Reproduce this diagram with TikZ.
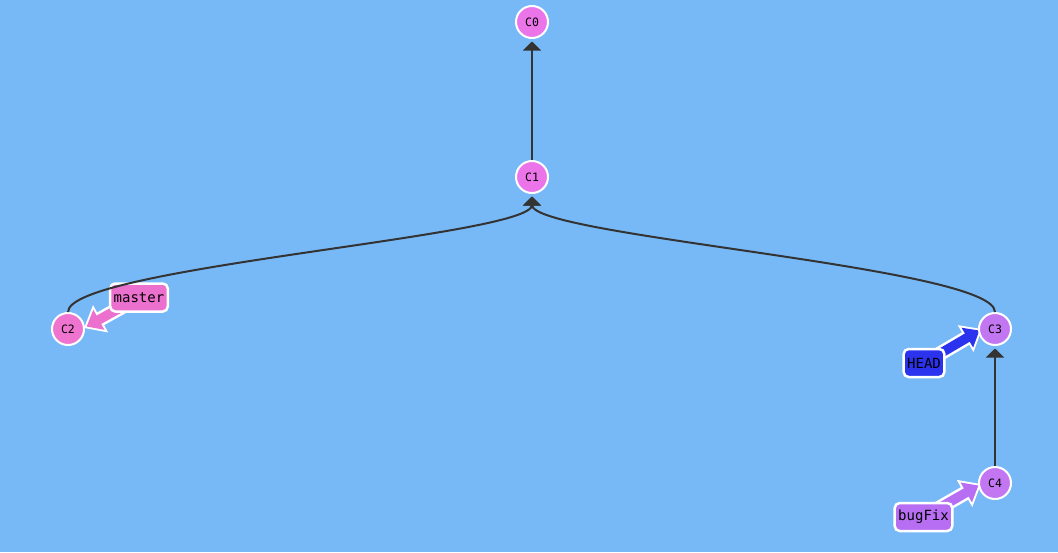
\documentclass[tikz,border=0pt]{standalone}
\usepackage{fontspec}
\setmonofont{DejaVu Sans Mono}
\usetikzlibrary{arrows.meta}
\definecolor{bgblue}{HTML}{77B9F6}
\definecolor{cpink}{HTML}{EB74E9}
\definecolor{cpinkb}{HTML}{EE74CF}
\definecolor{cpurple}{HTML}{C276F1}
\definecolor{lmaster}{HTML}{EC70CE}
\definecolor{lhead}{HTML}{2B33EE}
\definecolor{lbug}{HTML}{B86EF2}
\definecolor{edgegray}{HTML}{333333}
\pgfdeclarelayer{bg}
\pgfdeclarelayer{arr}
\pgfsetlayers{bg,arr,main}
\tikzset{
  commit/.style={circle, draw=white, line width=2pt, fill=#1, minimum size=32pt, inner sep=0pt, font=\ttfamily\fontsize{11.5}{13}\selectfont},
  blabel/.style={rectangle, rounded corners=5pt, draw=white, line width=2.5pt, fill=#1, minimum height=28pt, inner xsep=3.5pt, inner ysep=0pt, font=\ttfamily\fontsize{14}{16}\selectfont},
  edge/.style={draw=edgegray, line width=2pt, -{Triangle[length=9pt,width=18pt]}},
  fatwhite/.style={draw=white, line width=14.5pt, -{Triangle[length=19pt,width=30pt]}},
  fatcol/.style={draw=#1, line width=9.5pt, -{Triangle[length=14pt,width=22pt]}, shorten >=3pt},
}
\begin{document}
\begin{tikzpicture}[x=1pt,y=-1pt]
\begin{pgfonlayer}{bg}
\fill[bgblue] (0,0) rectangle (1058,552);
\end{pgfonlayer}
\useasboundingbox (0,0) rectangle (1058,552);
% commits
\node[commit=cpink] (C0) at (532,22) {C0};
\node[commit=cpink] (C1) at (532,177) {C1};
\node[commit=cpinkb] (C2) at (68,329) {C2};
\node[commit=cpurple] (C3) at (995,329) {C3};
\node[commit=cpurple] (C4) at (995,483) {C4};
% branch labels
\node[blabel=lmaster] (master) at (139,297.5) {master};
\node[blabel=lhead, text=black] (HEAD) at (924,363) {HEAD};
\node[blabel=lbug] (bugFix) at (923.5,517) {bugFix};
% arrow tips of labels
\coordinate (mt) at (84,328);
\coordinate (ht) at (982,329);
\coordinate (bt) at (981,484);
% edges
\draw[edge] (C1.north) -- ([yshift=-2.5pt]C0.south);
\draw[edge] (C4.north) -- ([yshift=-2.5pt]C3.south);
\draw[edge] (C2.north) .. controls +(0,-45) and +(0,40) .. ([yshift=-2.5pt]C1.south);
\draw[edge] (C3.north) .. controls +(0,-45) and +(0,40) .. ([yshift=-2.5pt]C1.south);
% fat arrows
\begin{pgfonlayer}{arr}
\draw[fatwhite] (master.center) -- (mt);
\draw[fatcol=lmaster] (master.center) -- (mt);
\draw[fatwhite] (HEAD.center) -- (ht);
\draw[fatcol=lhead] (HEAD.center) -- (ht);
\draw[fatwhite] (bugFix.center) -- (bt);
\draw[fatcol=lbug] (bugFix.center) -- (bt);
\end{pgfonlayer}
\end{tikzpicture}
\end{document}
